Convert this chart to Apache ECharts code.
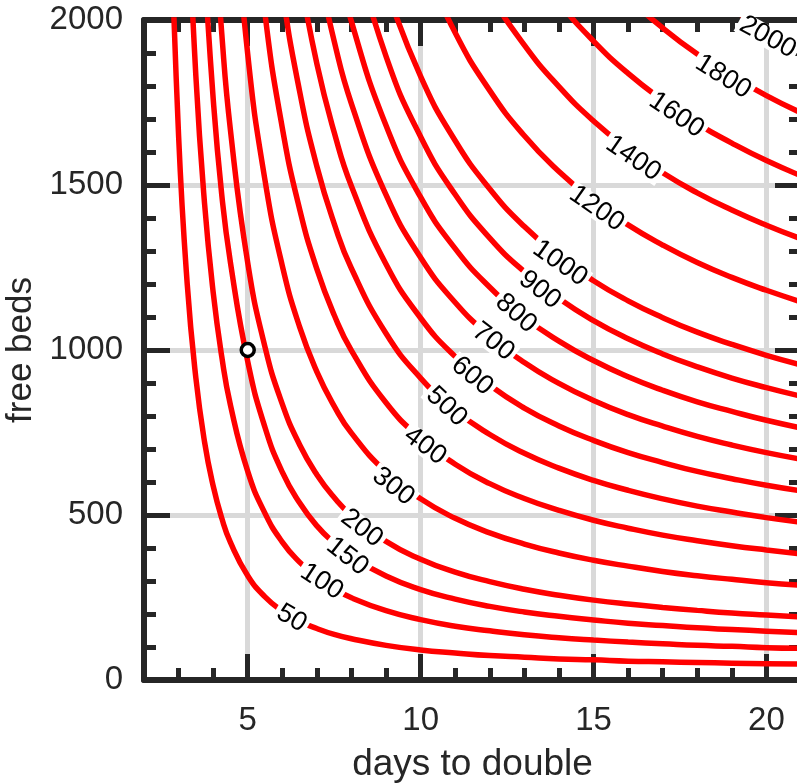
<!DOCTYPE html>
<html>
<head>
<meta charset="utf-8">
<title>free beds vs days to double</title>
<script src="https://cdn.jsdelivr.net/npm/echarts@6/dist/echarts.min.js"></script>
<style>
  html, body { margin: 0; padding: 0; background: #fff; }
  #main { width: 797px; height: 783px; }
</style>
</head>
<body>
<div id="main"></div>
<script>
// doubling time (days) at which every contour was read
var days = [2.75, 3, 3.25, 3.5, 3.75, 4, 4.25, 4.5, 5, 5.5, 6, 6.5, 7, 7.5, 8, 9, 10, 11, 12, 13, 14, 15, 16, 17, 18, 19, 20, 21];

// free beds on each contour (null = not needed, off the top of the plot)
var beds50 = [2405, 1650, 1200, 915, 722, 588, 490, 417, 316, 252, 209, 178, 156, 138, 125, 105, 91, 82, 74, 69, 64, 61, 57, 55, 53, 51, 49, 48];
var beds100 = [null, null, 2403, 1830, 1445, 1175, 979, 833, 632, 505, 418, 357, 311, 277, 249, 210, 183, 163, 149, 137, 128, 121, 115, 110, 105, 102, 98, 96];
var beds150 = [null, null, null, null, 2168, 1763, 1469, 1265, 965, 765, 630, 537, 467, 415, 374, 315, 274, 245, 223, 206, 193, 182, 172, 165, 158, 153, 148, 143];
var beds200 = [null, null, null, null, null, 2350, 1958, 1666, 1264, 1009, 836, 713, 622, 553, 499, 420, 366, 327, 298, 275, 257, 242, 230, 220, 211, 203, 197, 191];
var beds300 = [null, null, null, null, null, null, null, 2499, 1896, 1514, 1255, 1070, 934, 830, 748, 630, 549, 490, 446, 412, 385, 363, 345, 329, 316, 305, 295, 287];
var beds400 = [null, null, null, null, null, null, null, null, 2528, 2018, 1673, 1427, 1245, 1106, 998, 840, 732, 654, 595, 550, 514, 484, 460, 439, 422, 407, 394, 382];
var beds500 = [null, null, null, null, null, null, null, null, null, 2523, 2091, 1784, 1556, 1383, 1247, 1050, 915, 817, 744, 687, 642, 605, 575, 549, 527, 509, 492, 478];
var beds600 = [null, null, null, null, null, null, null, null, null, null, null, 2140, 1867, 1660, 1496, 1260, 1097, 980, 893, 824, 770, 726, 689, 659, 632, 610, 590, 573];
var beds700 = [null, null, null, null, null, null, null, null, null, null, null, null, 2178, 1936, 1746, 1470, 1280, 1144, 1042, 962, 899, 847, 804, 769, 738, 712, 689, 669];
var beds800 = [null, null, null, null, null, null, null, null, null, null, null, null, null, 2213, 1995, 1680, 1463, 1307, 1190, 1099, 1027, 968, 919, 878, 843, 814, 787, 764];
var beds900 = [null, null, null, null, null, null, null, null, null, null, null, null, null, null, 2245, 1890, 1646, 1471, 1339, 1237, 1156, 1089, 1034, 988, 949, 915, 886, 860];
var beds1000 = [null, null, null, null, null, null, null, null, null, null, null, null, null, null, null, 2100, 1829, 1634, 1488, 1374, 1284, 1210, 1149, 1098, 1054, 1017, 984, 955];
var beds1200 = [null, null, null, null, null, null, null, null, null, null, null, null, null, null, null, null, 2195, 1961, 1786, 1649, 1541, 1452, 1379, 1318, 1265, 1220, 1181, 1146];
var beds1400 = [null, null, null, null, null, null, null, null, null, null, null, null, null, null, null, null, null, 2288, 2083, 1924, 1798, 1694, 1609, 1537, 1476, 1424, 1378, 1337];
var beds1600 = [null, null, null, null, null, null, null, null, null, null, null, null, null, null, null, null, null, null, null, 2198, 2054, 1936, 1838, 1757, 1686, 1627, 1574, 1528];
var beds1800 = [null, null, null, null, null, null, null, null, null, null, null, null, null, null, null, null, null, null, null, null, null, 2178, 2068, 1976, 1897, 1831, 1771, 1719];
var beds2000 = [null, null, null, null, null, null, null, null, null, null, null, null, null, null, null, null, null, null, null, null, null, null, null, null, 2108, 2034, 1968, 1910];

var levels = [50, 100, 150, 200, 300, 400, 500, 600, 700, 800, 900, 1000, 1200, 1400, 1600, 1800, 2000];
var curves = [beds50, beds100, beds150, beds200, beds300, beds400, beds500, beds600, beds700,
  beds800, beds900, beds1000, beds1200, beds1400, beds1600, beds1800, beds2000];

// where each contour carries its label
var labelDays = [6.27, 7.14, 7.88, 8.30, 9.21, 10.13, 10.75, 11.49, 12.10, 12.76, 13.45, 14.03, 15.09, 16.15, 17.40, 18.75, 20.04];
var labelBeds = [187, 298, 374, 460, 586, 709, 828, 921, 1025, 1111, 1182, 1263, 1429, 1581, 1712, 1828, 1948];

// the marked point
var markDays = [5];
var markBeds = [1000];

var xTickValues = [5, 10, 15, 20];

var ink = '#262626';
var gridGrey = '#d9d9d9';
var font = "'Liberation Sans', Arial, Helvetica, sans-serif";
var tickLine = { color: ink, width: 5 };

function xMajor(position, withText) {
  return {
    type: 'value', position: position, min: 2, max: 21,
    axisLine: { show: true, onZero: false, lineStyle: { color: ink, width: 6 } },
    axisTick: { show: true, inside: true, length: 26, lineStyle: tickLine, customValues: xTickValues },
    axisLabel: { show: withText, customValues: xTickValues, margin: 24, color: ink, fontSize: 33, fontFamily: font },
    splitLine: { show: withText, lineStyle: { color: gridGrey, width: 5 } },
    name: withText ? 'days to double' : '',
    nameLocation: 'middle', nameGap: 66,
    nameTextStyle: { color: ink, fontSize: 37, fontFamily: font }
  };
}

function xMinor(position) {
  return {
    type: 'value', position: position, min: 2, max: 21, interval: 1,
    axisLine: { show: false, onZero: false },
    axisTick: { show: true, inside: true, length: 12, lineStyle: tickLine },
    axisLabel: { show: false },
    splitLine: { show: false }
  };
}

function yAxis(position, withText) {
  return {
    type: 'value', position: position, min: 0, max: 2000, interval: 500,
    axisLine: { show: true, onZero: false, lineStyle: { color: ink, width: 6 } },
    axisTick: { show: true, inside: true, length: 26, lineStyle: tickLine },
    minorTick: { show: true, splitNumber: 5, length: 12, lineStyle: tickLine },
    axisLabel: {
      show: withText, margin: 21, color: ink, fontSize: 33, fontFamily: font,
      formatter: function (v) { return String(v); }
    },
    splitLine: { show: withText, lineStyle: { color: gridGrey, width: 5 } },
    name: withText ? 'free beds' : '',
    nameLocation: 'middle', nameGap: 90,
    nameTextStyle: { color: ink, fontSize: 35, fontFamily: font }
  };
}

var lineSeries = levels.map(function (level, i) {
  var pts = [];
  days.forEach(function (d, j) {
    if (curves[i][j] != null) pts.push([d, curves[i][j]]);
  });
  return {
    type: 'line', name: String(level), data: pts,
    smooth: true, symbol: 'none', silent: true,
    lineStyle: { color: '#ff0000', width: 5.5 }, z: 2
  };
});

// turn each label along its contour, using the slope between the nearest read points
function labelRotation(i, api) {
  var curve = curves[i], x = labelDays[i];
  for (var j = 0; j < days.length - 1; j++) {
    if (days[j] <= x && x <= days[j + 1] && curve[j] != null) {
      var a = api.coord([days[j], curve[j]]);
      var b = api.coord([days[j + 1], curve[j + 1]]);
      return -Math.atan2(b[1] - a[1], b[0] - a[0]);
    }
  }
  return 0;
}

var labelSeries = {
  type: 'custom', name: 'labels', silent: true, z: 5,
  data: labelDays.map(function (d, i) { return [d, labelBeds[i]]; }),
  encode: { x: 0, y: 1 },
  renderItem: function (params, api) {
    var i = params.dataIndex;
    var p = api.coord([labelDays[i], labelBeds[i]]);
    return {
      type: 'text',
      x: p[0], y: p[1],
      rotation: labelRotation(i, api),
      style: {
        text: String(levels[i]), x: 0, y: 0,
        align: 'center', verticalAlign: 'middle',
        font: '27px "Liberation Sans", Arial, sans-serif', fill: '#000000',
        backgroundColor: '#ffffff', padding: [0, 3], lineHeight: 22
      }
    };
  }
};

var markSeries = {
  type: 'scatter', name: 'mark',
  data: markDays.map(function (d, i) { return [d, markBeds[i]]; }),
  symbol: 'circle', symbolSize: 13, silent: true, z: 6,
  itemStyle: { color: '#ffffff', borderColor: '#000000', borderWidth: 3.5, opacity: 1 }
};

var chart = echarts.init(document.getElementById('main'));
chart.setOption({
  animation: false,
  backgroundColor: '#ffffff',
  grid: { left: 144, right: -4, top: 20, bottom: 103, outerBoundsMode: 'none' },
  xAxis: [xMajor('bottom', true), xMinor('bottom'), xMajor('top', false), xMinor('top')],
  yAxis: [yAxis('left', true), yAxis('right', false)],
  series: lineSeries.concat([labelSeries, markSeries])
});
</script>
</body>
</html>
